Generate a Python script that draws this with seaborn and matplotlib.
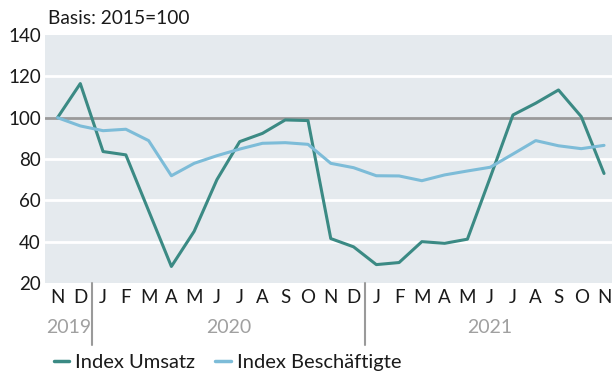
import matplotlib
matplotlib.use("Agg")
import matplotlib.pyplot as plt
import seaborn as sns
import pandas as pd
from matplotlib.lines import Line2D

# Monthly index values, Nov 2019 – Nov 2021 (2015 = 100)
months = ["N", "D", "J", "F", "M", "A", "M", "J", "J", "A", "S", "O",
          "N", "D", "J", "F", "M", "A", "M", "J", "J", "A", "S", "O", "N"]
umsatz = [100, 116.5, 83.6, 82, 55, 28, 45, 70, 88.4, 92.4, 98.9, 98.6,
          41.5, 37.5, 28.9, 29.9, 40, 39.2, 41.2, 71, 101.3, 107, 113.4, 100.5, 73]
beschaeftigte = [100, 96, 93.7, 94.4, 88.9, 71.9, 77.9, 81.6, 84.8, 87.6, 87.9, 87.1,
                 77.9, 75.8, 71.9, 71.8, 69.5, 72.3, 74.2, 76, 82.4, 88.9, 86.4, 85, 86.6]
years = ["2019", "2020", "2021"]
series_names = ["Index Umsatz", "Index Beschäftigte"]
colors = ["#3b8a84", "#7dbcd8"]

idx = list(range(len(months)))
df = pd.concat([
    pd.DataFrame({"t": idx, "wert": umsatz, "reihe": series_names[0]}),
    pd.DataFrame({"t": idx, "wert": beschaeftigte, "reihe": series_names[1]}),
])

sns.set_theme(style="white")
plt.rcParams["font.family"] = ["Lato", "DejaVu Sans"]

fig = plt.figure(figsize=(6.12, 3.76), dpi=100)
ax = fig.add_axes([45 / 612, 1 - 283 / 376, 1 - 45 / 612, (283 - 35) / 376])
ax.set_facecolor("#e5eaee")
for s in ax.spines.values():
    s.set_visible(False)

# white grid lines and the 100 reference line
for y in [40, 60, 80, 120]:
    ax.axhline(y, color="white", lw=2, zorder=1)
ax.axhline(100, color="#9a9a9a", lw=2, zorder=2)

sns.lineplot(data=df, x="t", y="wert", hue="reihe", palette=colors,
             linewidth=2.2, ax=ax, legend=False, zorder=3)

ax.set_xlim(-0.55, 24.35)
ax.set_ylim(20, 140)
ax.set_yticks([20, 40, 60, 80, 100, 120, 140])
ax.set_yticklabels(["20", "40", "60", "80", "100", "120", "140"], fontsize=13.5, color="#1a1a1a")
ax.set_xticks(idx)
ax.set_xticklabels(months, fontsize=13.5, color="#1a1a1a")
ax.tick_params(axis="both", length=0, pad=4)
ax.tick_params(axis="y", pad=3)
ax.set_xlabel("")
ax.set_ylabel("")

# year separators and year labels below the month row
trans = ax.get_xaxis_transform()
for xs in [1.5, 13.5]:
    ax.plot([xs, xs], [0, -0.25], transform=trans, color="#9a9a9a", lw=1.5, clip_on=False)
for xy, yr in zip([0.5, 7.5, 19], years):
    ax.text(xy, -0.18, yr, transform=trans, ha="center", va="center",
            fontsize=14, color="#a0a0a0")

fig.text(48 / 612, 1 - 19 / 376, "Basis: 2015=100", ha="left", va="center",
         fontsize=13.8, color="#1a1a1a")

handles = [Line2D([], [], color=c, lw=2.5) for c in colors]
fig.legend(handles, series_names, loc="center left", bbox_to_anchor=(36 / 612, 1 - 362 / 376),
           ncol=2, frameon=False, fontsize=14.5, handlelength=0.75, handletextpad=0.3,
           columnspacing=1.0, labelcolor="#1a1a1a")

fig.savefig("out.png", dpi=100)
